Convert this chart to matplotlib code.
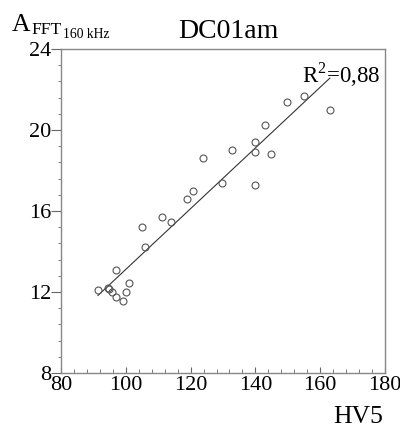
import numpy as np
import matplotlib
matplotlib.use('Agg')
import matplotlib.pyplot as plt
from matplotlib.ticker import MultipleLocator

plt.rcParams['font.family'] = ['Liberation Serif', 'DejaVu Serif']
plt.rcParams['mathtext.fontset'] = 'custom'
plt.rcParams['mathtext.rm'] = 'Liberation Serif'

# HV5 vs A_FFT (160 kHz), sample DC01am
hv5 = [91.4, 94.5, 94.8, 95.6, 97.0, 97.0, 99.1, 100.1, 101.0, 105.0, 105.9,
       111.2, 114.0, 118.9, 120.7, 123.8, 129.7, 132.8, 139.9, 139.9, 139.9,
       143.0, 144.8, 149.8, 155.0, 163.0]
a_fft = [12.1, 12.2, 12.15, 12.0, 13.1, 11.75, 11.55, 12.0, 12.45, 15.2, 14.2,
         15.7, 15.45, 16.6, 17.0, 18.6, 17.4, 19.0, 19.4, 18.9, 17.3,
         20.25, 18.8, 21.4, 21.7, 21.0]
r2_text = 'R$^2$=0,88'

x = np.array(hv5)
y = np.array(a_fft)
k, b = np.polyfit(x, y, 1)
xl = np.array([x.min(), x.max()])

fig = plt.figure(figsize=(4, 4.28), dpi=100)
ax = fig.add_axes([0.1525, 0.1285, 0.81, 0.757])

ax.plot(xl, k * xl + b, color='#333333', lw=0.8)
ax.plot(x, y, 'o', mfc='none', mec='#555555', ms=5, mew=0.8)

ax.set_xlim(80, 180)
ax.set_ylim(8, 24)
ax.xaxis.set_major_locator(MultipleLocator(20))
ax.xaxis.set_minor_locator(MultipleLocator(4))
ax.yaxis.set_major_locator(MultipleLocator(4))
ax.yaxis.set_minor_locator(MultipleLocator(0.8))

for s in ax.spines.values():
    s.set_color('#888888')
    s.set_linewidth(1.0)
ax.tick_params(axis='x', which='major', direction='in', length=4, color='#666666',
               labelsize=16, pad=2)
ax.tick_params(axis='x', which='minor', direction='in', length=3, color='#666666')
ax.tick_params(axis='y', which='major', direction='out', length=7, color='#666666',
               labelsize=16, pad=0)
ax.tick_params(axis='y', which='minor', direction='out', length=2.5, color='#666666')

ax.text(0.985, 0.965, r2_text, transform=ax.transAxes, ha='right', va='top', fontsize=16.5)

fig.text(228 / 400, 1 - 38 / 428, 'DC01am', ha='center', va='baseline', fontsize=20)
fig.text(12 / 400, 1 - 31 / 428, 'A', ha='left', va='baseline', fontsize=18.5)
fig.text(31 / 400, 1 - 34 / 428, 'FFT', ha='left', va='baseline', fontsize=12.5)
fig.text(63 / 400, 1 - 38.5 / 428, '160 kHz', ha='left', va='baseline', fontsize=9.8)
fig.text(383 / 400, 1 - 423 / 428, 'HV5', ha='right', va='baseline', fontsize=18.5)

fig.savefig('out.png', dpi=100)
